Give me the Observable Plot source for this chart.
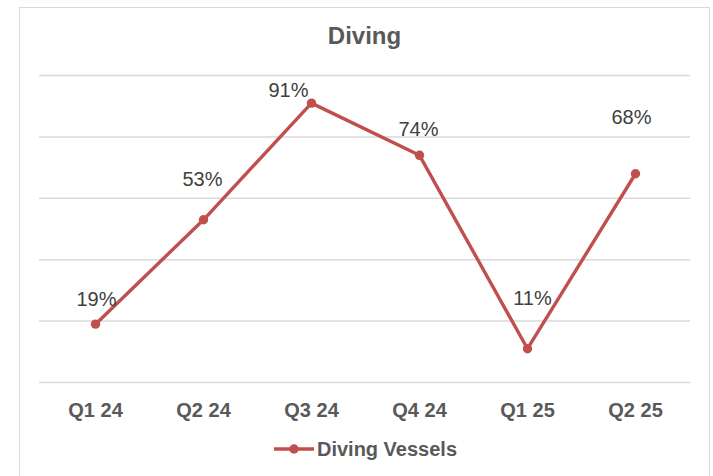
<!DOCTYPE html>
<html>
<head>
<meta charset="utf-8">
<script src="https://cdn.jsdelivr.net/npm/d3@7"></script>
<script src="https://cdn.jsdelivr.net/npm/@observablehq/plot@0.6"></script>
<style>
  html, body { margin: 0; padding: 0; background: #fff; }
  body { width: 713px; height: 476px; overflow: hidden; position: relative;
         font-family: "Liberation Sans", Arial, sans-serif; }
  .frame { position: absolute; left: 19px; top: 7px; width: 691px; height: 480px;
           border: 1.5px solid #d9d9d9; box-sizing: border-box; pointer-events: none; }
  #chart { position: absolute; left: 0; top: 0; width: 713px; }
  .title { height: 60px; box-sizing: border-box; padding-top: 20px; line-height: 32px;
           text-align: center; font-size: 24px; font-weight: bold; color: #595959;
           padding-left: 16px; }
  .legend { height: 38px; display: flex; align-items: center; justify-content: center;
            font-size: 20px; font-weight: bold; color: #595959; padding-left: 18px; }
  .legend svg { margin-right: 3px; }
</style>
</head>
<body>
<div id="chart"></div>
<div class="frame"></div>
<script>
// Quarterly utilisation of diving vessels
const quarters = ["Q1 24", "Q2 24", "Q3 24", "Q4 24", "Q1 25", "Q2 25"];
const utilisation = [19, 53, 91, 74, 11, 68];
const gridTicks = [0, 20, 40, 60, 80, 100];
const seriesName = "Diving Vessels";

const red = "#c0504d";
const rows = quarters.map((q, i) => ({quarter: q, value: utilisation[i]}));

// label nudges [dx, dy] so the percentages sit clear of the line
const nudge = [[1, -18], [-1, -34], [-23, -6], [-1, -19], [5, -44], [-4, -50]];

const plot = Plot.plot({
  width: 713,
  height: 370,
  marginTop: 15,
  marginBottom: 48,
  marginLeft: 39,
  marginRight: 23,
  style: {fontFamily: "Liberation Sans, Arial, sans-serif", background: "transparent"},
  x: {type: "point", domain: quarters, padding: 0.5},
  y: {domain: [0, 100], axis: null},
  marks: [
    Plot.ruleY(gridTicks, {stroke: "#d9d9d9", strokeWidth: 1.5}),
    Plot.axisX({tickSize: 0, tickPadding: 20, fontSize: 20, fontWeight: "bold",
                fill: "#595959", label: null}),
    Plot.line(rows, {x: "quarter", y: "value", stroke: red, strokeWidth: 3.4}),
    Plot.dot(rows, {x: "quarter", y: "value", r: 4.7, fill: red}),
    ...rows.map((d, i) => Plot.text([d], {
      x: "quarter", y: "value", text: (r) => `${r.value}%`,
      lineAnchor: "bottom", dx: nudge[i][0], dy: nudge[i][1],
      fontSize: 20, fill: "#404040"
    }))
  ]
});

const chart = document.getElementById("chart");
const title = document.createElement("div");
title.className = "title";
title.textContent = "Diving";
chart.appendChild(title);
plot.style.display = "block";
chart.appendChild(plot);

const legend = document.createElement("div");
legend.className = "legend";
legend.innerHTML =
  `<svg width="40" height="12"><line x1="0" x2="40" y1="6" y2="6" stroke="${red}" stroke-width="3.4"/>` +
  `<circle cx="20" cy="6" r="4.7" fill="${red}"/></svg><span>${seriesName}</span>`;
chart.appendChild(legend);
</script>
</body>
</html>
